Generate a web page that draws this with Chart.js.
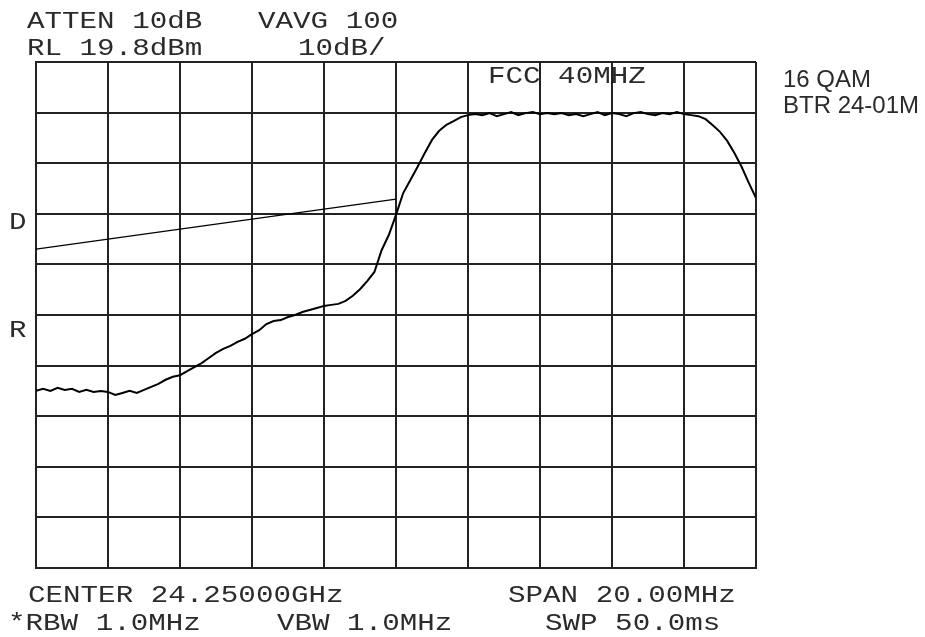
<!DOCTYPE html>
<html>
<head>
<meta charset="utf-8">
<script src="https://cdn.jsdelivr.net/npm/chart.js@4/dist/chart.umd.min.js"></script>
<style>
  body { margin: 0; background: #fff; }
  #box { width: 925px; height: 637px; }
</style>
</head>
<body>
<div id="box"><canvas id="spec" width="925" height="637"></canvas></div>
<script>
// frequency axis (MHz) and trace level (dBm)
var freqMHz = [
  24240.0, 24240.2, 24240.4, 24240.6, 24240.8, 24241.0, 24241.2, 24241.4, 24241.6, 24241.8,
  24242.0, 24242.2, 24242.4, 24242.6, 24242.8, 24243.0, 24243.2, 24243.4, 24243.6, 24243.8,
  24244.0, 24244.2, 24244.4, 24244.6, 24244.8, 24245.0, 24245.2, 24245.4, 24245.6, 24245.8,
  24246.0, 24246.2, 24246.4, 24246.6, 24246.8, 24247.0, 24247.2, 24247.4, 24247.6, 24247.8,
  24248.0, 24248.2, 24248.4, 24248.6, 24248.8, 24249.0, 24249.2, 24249.4, 24249.6, 24249.8,
  24250.0, 24250.2, 24250.4, 24250.6, 24250.8, 24251.0, 24251.2, 24251.4, 24251.6, 24251.8,
  24252.0, 24252.2, 24252.4, 24252.6, 24252.8, 24253.0, 24253.2, 24253.4, 24253.6, 24253.8,
  24254.0, 24254.2, 24254.4, 24254.6, 24254.8, 24255.0, 24255.2, 24255.4, 24255.6, 24255.8,
  24256.0, 24256.2, 24256.4, 24256.6, 24256.8, 24257.0, 24257.2, 24257.4, 24257.6, 24257.8,
  24258.0, 24258.2, 24258.4, 24258.6, 24258.8, 24259.0, 24259.2, 24259.4, 24259.6, 24259.8,
  24260.0
];
var traceDbm = [
  -45.2, -44.8, -45.2, -44.6, -45.0, -44.8, -45.4, -45.0, -45.4, -45.2,
  -45.4, -46.0, -45.6, -45.2, -45.6, -45.0, -44.4, -43.8, -43.0, -42.4,
  -42.1, -41.3, -40.5, -39.7, -38.7, -37.7, -36.9, -36.3, -35.5, -34.9,
  -34.0, -33.2, -32.0, -31.4, -31.2, -30.6, -30.2, -29.6, -29.2, -28.8,
  -28.4, -28.2, -28.0, -27.4, -26.4, -25.1, -23.5, -21.7, -17.4, -14.4,
  -10.4, -6.1, -3.5, -0.9, 1.8, 4.4, 6.2, 7.4, 8.1, 8.9,
  9.3, 9.5, 9.3, 9.7, 9.1, 9.5, 9.9, 9.3, 9.7, 9.9,
  9.5, 9.7, 9.5, 9.7, 9.3, 9.5, 9.1, 9.5, 9.9, 9.3,
  9.7, 9.5, 9.1, 9.7, 9.9, 9.5, 9.3, 9.7, 9.5, 9.9,
  9.5, 9.3, 9.1, 8.5, 7.3, 6.0, 4.2, 1.8, -0.9, -4.1,
  -7.1
];
// the slanted display line
var lineFreq = [24240.0, 24250.0];
var lineDbm = [-17.2, -7.3];

// graticule: RL 19.8 dBm, 10 dB/div
var levelTicks = [19.8, 9.8, -0.2, -10.2, -20.2, -30.2, -40.2, -50.2, -60.2, -70.2, -80.2];
var freqTicks = [24240, 24242, 24244, 24246, 24248, 24250, 24252, 24254, 24256, 24258, 24260];

var topText = ['ATTEN 10dB', 'VAVG 100', 'RL 19.8dBm', '10dB/'];
var bottomText = ['CENTER 24.25000GHz', 'SPAN 20.00MHz', '*RBW 1.0MHz', 'VBW 1.0MHz', 'SWP 50.0ms'];
var sideText = ['16 QAM', 'BTR 24-01M'];
var markerText = ['FCC 40MHZ', 'D', 'R'];

function mono(ctx, s, x, y){
  ctx.save();
  ctx.translate(x, y);
  ctx.scale(1.27, 1);
  ctx.fillText(s, 0, 0);
  ctx.restore();
}

const screenText = {
  id: 'screen_text',
  afterDraw: (chart) => {
    const ctx = chart.ctx;
    ctx.save();
    ctx.fillStyle = '#2b2b2b';
    ctx.textBaseline = 'alphabetic';
    ctx.font = '23px "Liberation Mono"';
    mono(ctx, topText[0], 27, 28);
    mono(ctx, topText[1], 258, 28);
    mono(ctx, topText[2], 27, 55);
    mono(ctx, topText[3], 298, 55);
    mono(ctx, bottomText[0], 28, 602);
    mono(ctx, bottomText[1], 508, 602);
    mono(ctx, bottomText[2], 8, 630);
    mono(ctx, bottomText[3], 277, 630);
    mono(ctx, bottomText[4], 545, 630);
    mono(ctx, markerText[0], 488, 83);
    mono(ctx, markerText[1], 9, 229);
    mono(ctx, markerText[2], 9, 337);
    ctx.font = '24px "Liberation Sans"';
    ctx.fillText(sideText[0], 783, 87);
    ctx.fillText(sideText[1], 783, 113);
    ctx.restore();
  }
};

const config = {
  type: 'line',
  data: {
    datasets: [{
      label: 'trace',
      data: freqMHz.map((f, i) => ({x: f, y: traceDbm[i]})),
      borderColor: '#000',
      borderWidth: 2,
      pointRadius: 0,
      tension: 0
    },
    {
      label: 'display line',
      data: lineFreq.map((f, i) => ({x: f, y: lineDbm[i]})),
      borderColor: '#000',
      borderWidth: 1.2,
      pointRadius: 0
    }]
  },
  options: {
    responsive: false,
    animation: false,
    devicePixelRatio: 1,
    layout: { padding: { left: 36, right: 169, top: 62, bottom: 69 } },
    plugins: { legend: { display: false }, tooltip: { enabled: false } },
    scales: {
      x: {
        type: 'linear',
        min: 24240, max: 24260,
        afterBuildTicks: (s) => { s.ticks = freqTicks.map(v => ({value: v})); },
        ticks: { display: false, padding: 0 },
        grid: { color: '#222', lineWidth: 2, drawTicks: false },
        border: { color: '#222', width: 2 }
      },
      y: {
        min: -80.2, max: 19.8,
        afterBuildTicks: (s) => { s.ticks = levelTicks.map(v => ({value: v})); },
        ticks: { display: false, padding: 0 },
        grid: { color: '#222', lineWidth: 2, drawTicks: false },
        border: { color: '#222', width: 2 }
      }
    }
  },
  plugins: [screenText]
};

const spec = new Chart(document.getElementById('spec'), config);
</script>
</body>
</html>
